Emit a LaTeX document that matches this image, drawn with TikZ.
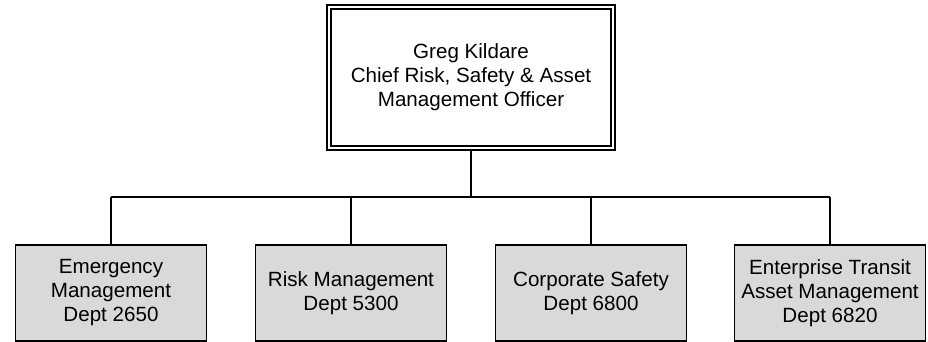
\documentclass[tikz,border=0pt]{standalone}
\usepackage{fontspec}
\setmainfont{Liberation Sans}
\definecolor{boxgray}{RGB}{217,217,217}
\begin{document}
\begin{tikzpicture}[x=1pt,y=-1pt,
  every node/.style={font=\fontsize{20.6}{24}\selectfont, align=center, inner sep=0pt},
  topbox/.style={draw=black, line width=2pt, double=white, double distance=2pt,
    minimum width=284pt, minimum height=141pt},
  deptbox/.style={draw=black, line width=1.8pt, fill=boxgray,
    minimum width=191pt, minimum height=96pt},
  conn/.style={draw=black, line width=1.8pt}]
\useasboundingbox (0,0) rectangle (928,342);
\node[topbox] (g) at (471,77.5) {Greg Kildare\\Chief Risk, Safety \& Asset\\Management Officer};
\node[deptbox] (b1) at (111,293) {Emergency\\Management\\Dept 2650};
\node[deptbox] (b2) at (351,293) {Risk Management\\Dept 5300};
\node[deptbox] (b3) at (591,293) {Corporate Safety\\Dept 6800};
\node[deptbox] (b4) at (830,293) {Enterprise Transit\\Asset Management\\Dept 6820};
\coordinate (bus) at (471,197);
\draw[conn] (g.south) -- (bus);
\draw[conn] (b1.north |- bus) -- (b4.north |- bus);
\draw[conn] (b1.north) -- (b1.north |- bus);
\draw[conn] (b2.north) -- (b2.north |- bus);
\draw[conn] (b3.north) -- (b3.north |- bus);
\draw[conn] (b4.north) -- (b4.north |- bus);
\end{tikzpicture}
\end{document}
